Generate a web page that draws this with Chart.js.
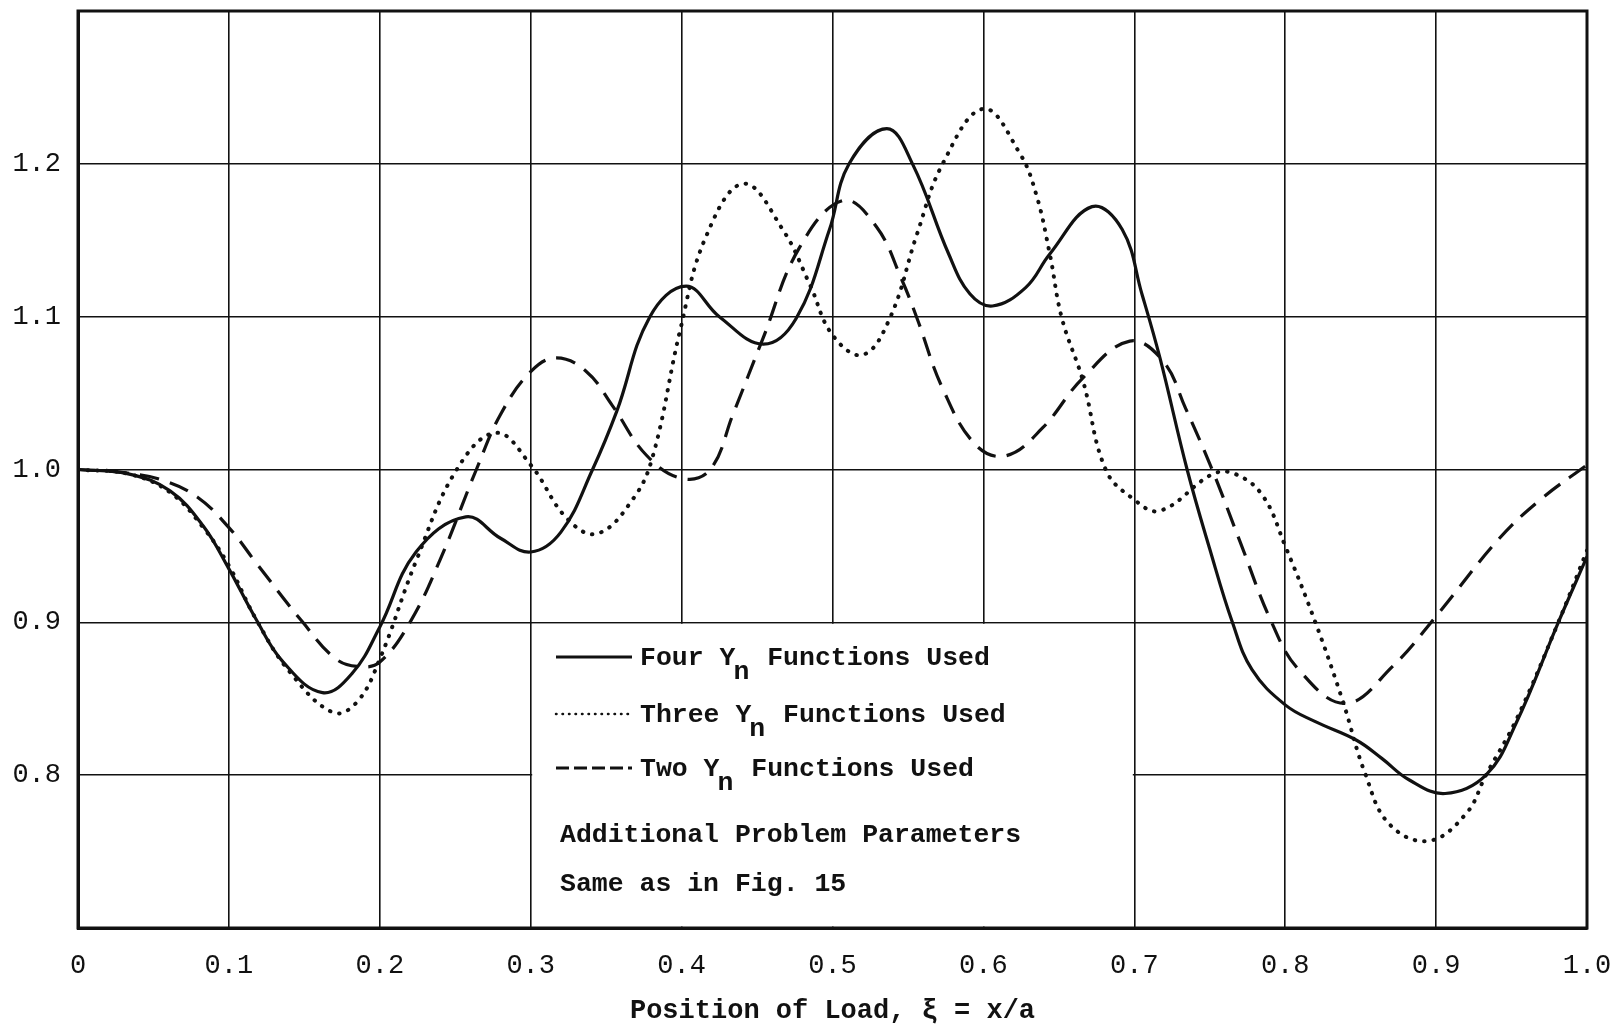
<!DOCTYPE html>
<html>
<head>
<meta charset="utf-8">
<script src="https://cdn.jsdelivr.net/npm/chart.js@4.4.1/dist/chart.umd.min.js"></script>
<style>
  html, body { margin: 0; padding: 0; background: #ffffff; }
  #wrap { width: 1616px; height: 1028px; }
</style>
</head>
<body>
<div id="wrap"><canvas id="c" width="1616" height="1028"></canvas></div>
<script>
// ---- data ----
const fourX = [0, 0.034, 0.061, 0.083, 0.1, 0.118, 0.136, 0.162, 0.182, 0.2, 0.224, 0.257, 0.28, 0.30, 0.32, 0.341, 0.357, 0.379, 0.403, 0.425, 0.454, 0.476, 0.498, 0.511, 0.536, 0.553, 0.577, 0.591, 0.606, 0.628, 0.644, 0.672, 0.692, 0.705, 0.717, 0.735, 0.750, 0.765, 0.778, 0.8, 0.82, 0.847, 0.864, 0.882, 0.906, 0.933, 0.953, 0.981, 1.0];
const fourY = [1.0, 0.997, 0.986, 0.963, 0.935, 0.902, 0.874, 0.854, 0.867, 0.897, 0.946, 0.969, 0.955, 0.946, 0.959, 1.0, 1.038, 1.1, 1.120, 1.1, 1.082, 1.099, 1.157, 1.2, 1.223, 1.2, 1.141, 1.115, 1.107, 1.119, 1.141, 1.172, 1.157, 1.115, 1.073, 1.0, 0.948, 0.9, 0.869, 0.846, 0.835, 0.823, 0.811, 0.797, 0.788, 0.8, 0.834, 0.9, 0.943];

const threeX = [0, 0.034, 0.061, 0.083, 0.1, 0.118, 0.14, 0.169, 0.185, 0.2, 0.224, 0.251, 0.277, 0.30, 0.324, 0.344, 0.368, 0.381, 0.399, 0.416, 0.441, 0.467, 0.485, 0.5, 0.52, 0.538, 0.556, 0.573, 0.6, 0.624, 0.635, 0.644, 0.652, 0.666, 0.681, 0.699, 0.717, 0.752, 0.767, 0.785, 0.8, 0.82, 0.838, 0.853, 0.869, 0.895, 0.92, 0.933, 0.953, 0.981, 1.0];
const threeY = [1.0, 0.997, 0.985, 0.962, 0.937, 0.902, 0.868, 0.841, 0.848, 0.876, 0.94, 1.0, 1.024, 1.003, 0.968, 0.958, 0.981, 1.009, 1.091, 1.152, 1.187, 1.157, 1.121, 1.088, 1.075, 1.099, 1.154, 1.2, 1.236, 1.207, 1.18, 1.141, 1.099, 1.058, 1.0, 0.981, 0.973, 0.997, 0.997, 0.983, 0.95, 0.9, 0.849, 0.801, 0.768, 0.757, 0.775, 0.8, 0.836, 0.9, 0.947];

const twoX = [0, 0.03, 0.056, 0.079, 0.1, 0.118, 0.149, 0.171, 0.187, 0.2, 0.22, 0.24, 0.264, 0.28, 0.3, 0.317, 0.337, 0.354, 0.377, 0.401, 0.419, 0.434, 0.454, 0.478, 0.507, 0.529, 0.546, 0.556, 0.573, 0.595, 0.615, 0.639, 0.666, 0.697, 0.719, 0.734, 0.752, 0.77, 0.791, 0.809, 0.84, 0.871, 0.9, 0.942, 0.97, 1.0];
const twoY = [1.0, 0.998, 0.993, 0.982, 0.962, 0.939, 0.9, 0.876, 0.871, 0.874, 0.9, 0.941, 1.0, 1.036, 1.064, 1.073, 1.064, 1.042, 1.009, 0.994, 1.0, 1.036, 1.086, 1.145, 1.176, 1.159, 1.124, 1.099, 1.053, 1.016, 1.009, 1.027, 1.06, 1.084, 1.071, 1.04, 0.999, 0.953, 0.9, 0.869, 0.847, 0.871, 0.904, 0.955, 0.981, 1.003];

const xTicks = [0, 0.1, 0.2, 0.3, 0.4, 0.5, 0.6, 0.7, 0.8, 0.9, 1.0];
const xTickLabels = ['0', '0.1', '0.2', '0.3', '0.4', '0.5', '0.6', '0.7', '0.8', '0.9', '1.0'];
const yTicks = [0.7, 0.8, 0.9, 1.0, 1.1, 1.2, 1.3];
const yTickLabels = ['', '0.8', '0.9', '1.0', '1.1', '1.2', ''];

const seriesNames = ['Four', 'Three', 'Two'];
const xTitle = 'Position of Load, \u03BE = x/a';
const noteLines = ['Additional Problem Parameters', 'Same as in Fig. 15'];

// ---- build ----
function pts(xs, ys) { return xs.map((x, i) => ({ x: x, y: ys[i] })); }

const INK = '#111111';
const MONO = '"Liberation Mono", "DejaVu Sans Mono", monospace';

const overlay = {
  id: 'overlay',
  beforeDatasetsDraw(chart) {
    const { ctx, scales } = chart;
    const xs = scales.x, ys = scales.y;
    // legend panel masks the grid between 0.3..0.7 and 0.7..0.9
    const l = xs.getPixelForValue(0.3), r = xs.getPixelForValue(0.7);
    const t = ys.getPixelForValue(0.9), b = ys.getPixelForValue(0.7);
    ctx.save();
    ctx.fillStyle = '#ffffff';
    ctx.fillRect(l + 1.5, t + 1.5, r - l - 3, b - t - 3);
    // frame
    const a = chart.chartArea;
    ctx.strokeStyle = INK;
    ctx.lineWidth = 3;
    ctx.strokeRect(a.left, a.top, a.right - a.left, a.bottom - a.top);

    // legend entries
    const rows = [
      { y: 665, dash: [], width: 3, cap: 'butt', label: seriesNames[0] + ' Y', rest: ' Functions Used' },
      { y: 722, dash: [0.5, 6], width: 2.5, cap: 'round', label: seriesNames[1] + ' Y', rest: ' Functions Used' },
      { y: 776, dash: [13, 5], width: 3, cap: 'butt', label: seriesNames[2] + ' Y', rest: ' Functions Used' }
    ];
    ctx.fillStyle = INK;
    ctx.textBaseline = 'alphabetic';
    ctx.textAlign = 'left';
    rows.forEach((row) => {
      ctx.beginPath();
      ctx.setLineDash(row.dash);
      ctx.lineCap = row.cap;
      ctx.lineWidth = row.width;
      ctx.moveTo(556, row.y - 8);
      ctx.lineTo(632, row.y - 8);
      ctx.stroke();
      ctx.setLineDash([]);
      ctx.font = 'bold 26.5px ' + MONO;
      let x = 640;
      ctx.fillText(row.label, x, row.y);
      x += ctx.measureText(row.label).width;
      ctx.fillText('n', x - 2, row.y + 14);
      x += ctx.measureText('n').width;
      ctx.fillText(row.rest, x, row.y);
    });
    ctx.font = 'bold 26.5px ' + MONO;
    ctx.fillText(noteLines[0], 560, 842);
    ctx.fillText(noteLines[1], 560, 891);
    ctx.restore();
  }
};

const tickFont = { family: MONO, size: 27 };

new Chart(document.getElementById('c'), {
  type: 'line',
  data: {
    datasets: [
      { label: seriesNames[0], data: pts(fourX, fourY), borderColor: INK, borderWidth: 3.2, borderDash: [], tension: 0.4, pointRadius: 0, fill: false },
      { label: seriesNames[1], data: pts(threeX, threeY), borderColor: INK, borderWidth: 4, borderDash: [0.5, 9], borderCapStyle: 'round', tension: 0.4, pointRadius: 0, fill: false },
      { label: seriesNames[2], data: pts(twoX, twoY), borderColor: INK, borderWidth: 3.2, borderDash: [20, 11], tension: 0.4, pointRadius: 0, fill: false }
    ]
  },
  options: {
    responsive: false,
    animation: false,
    devicePixelRatio: 1,
    layout: { padding: { left: 0, right: 29, top: 11, bottom: 0 } },
    plugins: { legend: { display: false }, tooltip: { enabled: false } },
    scales: {
      x: {
        type: 'linear', min: 0, max: 1,
        afterBuildTicks: s => { s.ticks = xTicks.map(v => ({ value: v })); },
        afterFit: s => { s.height = 100; s.paddingLeft = 0; s.paddingRight = 0; s.paddingTop = 0; s.paddingBottom = 0; },
        grid: { color: INK, lineWidth: 1.6, drawTicks: false },
        border: { color: INK, width: 3 },
        ticks: { color: INK, font: tickFont, padding: 22, maxRotation: 0, autoSkip: false,
          callback: (v, i) => xTickLabels[i] },
        title: { display: true, text: xTitle, color: INK, font: { family: MONO, size: 27, weight: 'bold' }, padding: { top: 0, bottom: 1 } }
      },
      y: {
        type: 'linear', min: 0.7, max: 1.3,
        afterBuildTicks: s => { s.ticks = yTicks.map(v => ({ value: v })); },
        afterFit: s => { s.width = 78; s.paddingLeft = 0; s.paddingRight = 0; s.paddingTop = 0; s.paddingBottom = 0; },
        grid: { color: INK, lineWidth: 1.6, drawTicks: false },
        border: { color: INK, width: 3 },
        ticks: { color: INK, font: tickFont, padding: 17, autoSkip: false,
          callback: (v, i) => yTickLabels[i] }
      }
    }
  },
  plugins: [overlay]
});
</script>
</body>
</html>
